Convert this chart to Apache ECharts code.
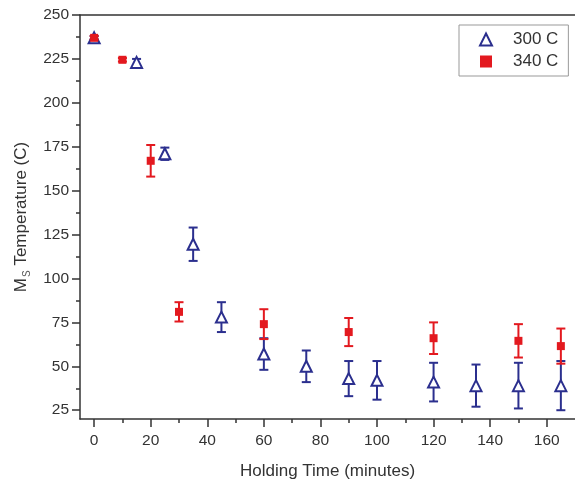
<!DOCTYPE html>
<html>
<head>
<meta charset="utf-8">
<script src="https://cdn.jsdelivr.net/npm/echarts@6/dist/echarts.min.js"></script>
<style>
html,body{margin:0;padding:0;background:#fff;}
#chart{width:575px;height:483px;}
</style>
</head>
<body>
<div id="chart"></div>
<script>
// ---- data ----
var xTicks = [0, 20, 40, 60, 80, 100, 120, 140, 160];
var xMinorTicks = [10, 30, 50, 70, 90, 110, 130, 150];
var yTicks = [25, 50, 75, 100, 125, 150, 175, 200, 225, 250];
var yMinorTicks = [37.5, 62.5, 87.5, 112.5, 137.5, 162.5, 187.5, 212.5, 237.5];

var series300Name = '300 C';
var t300 = [0, 15, 25, 35, 45, 60, 75, 90, 100, 120, 135, 150, 165];
var ms300 = [237, 223, 171, 119.5, 78, 57, 50, 43, 42, 41, 39, 39, 39];
var err300 = [1, 2, 3.5, 9.5, 8.5, 9, 9, 10, 11, 11, 12, 13, 14];

var series340Name = '340 C';
var t340 = [0, 10, 20, 30, 60, 90, 120, 150, 165];
var ms340 = [237, 224.5, 167, 81, 74, 69.5, 66, 64.5, 61.5];
var err340 = [1, 1, 9, 5.5, 8.5, 8, 9, 9.5, 10];

var BLUE = '#2b2f8e';
var RED = '#e3191f';
var FONT = 'Liberation Sans, Arial, sans-serif';

function pts(xs, ys) { return xs.map(function (x, i) { return [x, ys[i]]; }); }
function errData(xs, ys, es) { return xs.map(function (x, i) { return [x, ys[i] - es[i], ys[i] + es[i]]; }); }

function errRender(color) {
  return function (params, api) {
    var x = api.value(0);
    var lo = api.coord([x, api.value(1)]);
    var hi = api.coord([x, api.value(2)]);
    var hw = 4.5;
    var style = { stroke: color, lineWidth: 2, fill: null };
    return {
      type: 'group',
      children: [
        { type: 'line', shape: { x1: lo[0], y1: lo[1], x2: hi[0], y2: hi[1] }, style: style },
        { type: 'line', shape: { x1: lo[0] - hw, y1: lo[1], x2: lo[0] + hw, y2: lo[1] }, style: style },
        { type: 'line', shape: { x1: hi[0] - hw, y1: hi[1], x2: hi[0] + hw, y2: hi[1] }, style: style }
      ]
    };
  };
}

var chart = echarts.init(document.getElementById('chart'), null, { renderer: 'canvas' });

var axisLineStyle = { color: '#333', width: 1.5 };
var labelStyle = { color: '#333', fontSize: 15.5, fontFamily: FONT };

var option = {
  animation: false,
  backgroundColor: '#fff',
  grid: { left: 80, right: 0, top: 15, bottom: 64, containLabel: false, outerBoundsMode: 'none' },
  legend: {
    orient: 'vertical',
    left: 459, top: 25,
    padding: [6, 10, 6, 20],
    itemGap: 5,
    itemWidth: 12, itemHeight: 12,
    borderColor: '#999', borderWidth: 1,
    textStyle: { fontSize: 17, color: '#333', fontFamily: FONT, padding: [0, 0, 0, 16] },
    data: [
      { name: series300Name, icon: 'triangle', itemStyle: { color: '#fff', borderColor: BLUE, borderWidth: 2 } },
      { name: series340Name, icon: 'rect', itemStyle: { color: RED } }
    ]
  },
  xAxis: [
    {
      type: 'value', min: -5, max: 170, position: 'bottom',
      name: 'Holding Time (minutes)', nameLocation: 'middle', nameGap: 44,
      nameTextStyle: { fontSize: 17, color: '#333', fontFamily: FONT },
      axisLine: { show: true, onZero: false, lineStyle: axisLineStyle },
      axisTick: { show: true, inside: false, length: 8, customValues: xTicks, lineStyle: axisLineStyle },
      axisLabel: { customValues: xTicks, margin: 14, ...labelStyle },
      splitLine: { show: false }
    },
    {
      type: 'value', min: -5, max: 170, position: 'bottom',
      axisLine: { show: false, onZero: false },
      axisTick: { show: true, inside: false, length: 4, customValues: xMinorTicks, lineStyle: axisLineStyle },
      axisLabel: { show: false },
      splitLine: { show: false }
    },
    {
      type: 'value', min: -5, max: 170, position: 'top',
      axisLine: { show: true, onZero: false, lineStyle: axisLineStyle },
      axisTick: { show: false }, axisLabel: { show: false }, splitLine: { show: false }
    }
  ],
  yAxis: [
    {
      type: 'value', min: 20, max: 250, position: 'left',
      name: '{a|M}{s|S}{a| Temperature (C)}', nameLocation: 'middle', nameGap: 48, nameRotate: 90,
      nameTextStyle: {
        rich: {
          a: { fontSize: 17, color: '#333', fontFamily: FONT },
          s: { fontSize: 10, color: '#555', fontFamily: FONT, padding: [12, 0, 0, 1] }
        }
      },
      axisLine: { show: true, onZero: false, lineStyle: axisLineStyle },
      axisTick: { show: true, inside: false, length: 8, customValues: yTicks, lineStyle: axisLineStyle },
      axisLabel: { customValues: yTicks, margin: 11, ...labelStyle },
      splitLine: { show: false }
    },
    {
      type: 'value', min: 20, max: 250, position: 'left',
      axisLine: { show: false, onZero: false },
      axisTick: { show: true, inside: false, length: 4, customValues: yMinorTicks, lineStyle: axisLineStyle },
      axisLabel: { show: false },
      splitLine: { show: false }
    }
  ],
  series: [
    {
      type: 'custom', name: series300Name + ' err', xAxisIndex: 0, yAxisIndex: 0,
      renderItem: errRender(BLUE), data: errData(t300, ms300, err300), z: 2, silent: true
    },
    {
      type: 'scatter', name: series300Name, xAxisIndex: 0, yAxisIndex: 0,
      data: pts(t300, ms300), symbol: 'triangle', symbolSize: 11,
      itemStyle: { color: '#fff', borderColor: BLUE, borderWidth: 2, opacity: 1 }, z: 3
    },
    {
      type: 'custom', name: series340Name + ' err', xAxisIndex: 0, yAxisIndex: 0,
      renderItem: errRender(RED), data: errData(t340, ms340, err340), z: 4, silent: true
    },
    {
      type: 'scatter', name: series340Name, xAxisIndex: 0, yAxisIndex: 0,
      data: pts(t340, ms340), symbol: 'rect', symbolSize: 8,
      itemStyle: { color: RED, opacity: 1 }, z: 5
    }
  ]
};
chart.setOption(option);
</script>
</body>
</html>
